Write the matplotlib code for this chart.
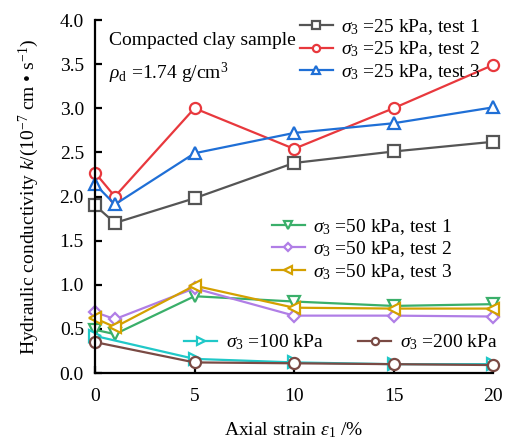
import numpy as np
import matplotlib
matplotlib.use('Agg')
import matplotlib.pyplot as plt

plt.rcParams['font.family'] = 'Liberation Serif'
plt.rcParams['mathtext.fontset'] = 'custom'
plt.rcParams['mathtext.rm'] = 'Liberation Serif'
plt.rcParams['mathtext.it'] = 'Liberation Serif:italic'
plt.rcParams['font.size'] = 14

strain = [0, 1, 5, 10, 15, 20]
strain_hi = [0, 5, 10, 15, 20]

k25_t1 = [1.90, 1.70, 1.98, 2.38, 2.51, 2.62]
k25_t2 = [2.27, 2.00, 3.00, 2.54, 3.00, 3.49]
k25_t3 = [2.14, 1.91, 2.49, 2.72, 2.83, 3.01]
k50_t1 = [0.49, 0.44, 0.87, 0.81, 0.76, 0.78]
k50_t2 = [0.69, 0.61, 0.96, 0.65, 0.65, 0.64]
k50_t3 = [0.62, 0.52, 0.99, 0.74, 0.73, 0.73]
k100 = [0.42, 0.16, 0.12, 0.10, 0.10]
k200 = [0.35, 0.12, 0.11, 0.10, 0.09]

fig = plt.figure(figsize=(5.08, 4.44), dpi=100)
ax = fig.add_axes([95/508, 1-373/444, 398/508, 353/444])

def draw(x, y, color, marker, label):
    ln, = ax.plot(x, y, color=color, marker=marker, ms=8, mfc='white',
                  mec=color, mew=1.6, lw=1.6, label=label, clip_on=False)
    return ln

s3 = r'$\sigma_3$ =%s kPa'
g1 = [draw(strain, k25_t1, '#555555', 's', s3 % 25 + ', test 1'),
      draw(strain, k25_t2, '#e8383d', 'o', s3 % 25 + ', test 2'),
      draw(strain, k25_t3, '#1f6fd6', '^', s3 % 25 + ', test 3')]
g2 = [draw(strain, k50_t1, '#3aaf6a', 'v', s3 % 50 + ', test 1'),
      draw(strain, k50_t2, '#b07ee6', 'D', s3 % 50 + ', test 2'),
      draw(strain, k50_t3, '#d4a000', '<', s3 % 50 + ', test 3')]
g3 = [draw(strain_hi, k100, '#20c8c8', '>', s3 % 100),
      draw(strain_hi, k200, '#7a4a44', 'o', s3 % 200)]
g2[1].set_markersize(6.5)

kw = dict(frameon=False, handlelength=1.7, handletextpad=0.42, borderpad=0,
          labelspacing=0.14, markerscale=0.65, loc='upper left')
leg1 = ax.legend(handles=g1, bbox_to_anchor=(0.49, 1.036), **kw)
ax.add_artist(leg1)
leg2 = ax.legend(handles=g2, bbox_to_anchor=(0.42, 0.470), **kw)
ax.add_artist(leg2)
ax.legend(handles=g3, ncol=2, columnspacing=1.8,
          bbox_to_anchor=(0.20, 0.142), **kw)

ax.text(0.035, 0.965, 'Compacted clay sample', transform=ax.transAxes, va='top')
ax.text(0.035, 0.885, r'$\rho_{\rm d}$ =1.74 g/cm$^3$', transform=ax.transAxes, va='top')

ax.set_xlim(0, 20)
ax.set_ylim(0, 4.0)
ax.set_xticks([0, 5, 10, 15, 20])
ax.set_yticks(np.arange(0, 4.01, 0.5))
ax.yaxis.set_major_formatter(matplotlib.ticker.FormatStrFormatter('%.1f'))
ax.spines['top'].set_visible(False)
ax.spines['right'].set_visible(False)
for sp in ('left', 'bottom'):
    ax.spines[sp].set_linewidth(1.6)
ax.tick_params(direction='in', length=5, width=1.6, pad=8)
ax.tick_params(axis='x', pad=11)

ax.set_xlabel(r'Axial strain $\varepsilon_1$ /%', labelpad=11)
ax.set_ylabel(r'Hydraulic conductivity $k$/(10$^{-7}$ cm • s$^{-1}$)', labelpad=13)

fig.savefig('out.png', dpi=100)
